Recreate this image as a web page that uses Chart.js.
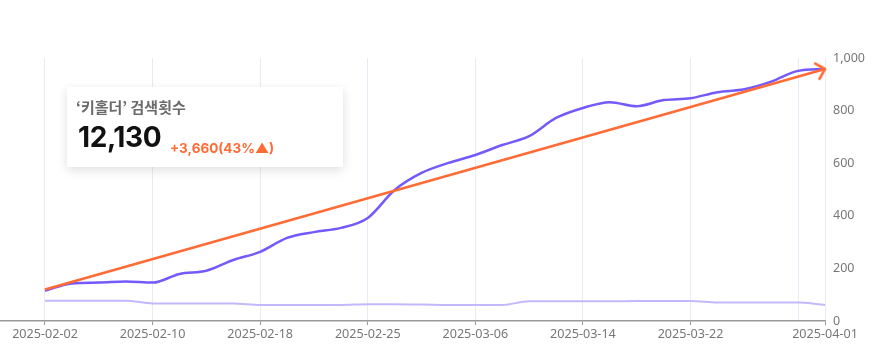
<!DOCTYPE html>
<html><head><meta charset="utf-8">
<script src="https://cdn.jsdelivr.net/npm/chart.js@4/dist/chart.umd.min.js"></script>
<style>
html,body{margin:0;padding:0;background:#fff;}
#wrap{position:relative;width:886px;height:357px;overflow:hidden;}
#c{position:absolute;left:0;top:0;}
.card{position:absolute;left:67px;top:87px;width:276px;height:80px;background:#fff;box-shadow:0 3px 10px rgba(0,0,0,0.13);font-family:Inter,"Noto Sans CJK KR",sans-serif;}
.card .t{position:absolute;left:9px;top:10px;font-size:15px;line-height:20px;font-weight:600;color:#6b6b6b;font-family:"Noto Sans CJK KR",Inter,sans-serif;white-space:nowrap;}
.card .n{position:absolute;left:11px;top:35px;font-size:28px;line-height:30px;font-weight:700;color:#111;white-space:nowrap;letter-spacing:-0.4px;}
.card .d{position:absolute;left:103px;top:52px;font-size:13.5px;line-height:18px;font-weight:700;color:#ff6b35;white-space:nowrap;}
</style></head>
<body>
<div id="wrap">
<canvas id="c" width="886" height="357"></canvas>
<div class="card"><div class="t">‘키홀더’ 검색횟수</div><div class="n">12,130</div><div class="d">+3,660(43%▲)</div></div>
</div>
<script>
const categories = ['2025-02-02','2025-02-04','2025-02-06','2025-02-08','2025-02-10','2025-02-12','2025-02-14','2025-02-16','2025-02-18','2025-02-20','2025-02-22','2025-02-23','2025-02-25','2025-02-27','2025-03-01','2025-03-03','2025-03-06','2025-03-08','2025-03-10','2025-03-12','2025-03-14','2025-03-16','2025-03-18','2025-03-20','2025-03-22','2025-03-24','2025-03-26','2025-03-28','2025-03-30','2025-04-01'];
const searchCounts = [115,143,146,150,146,179,191,232,263,316,338,354,392,498,563,601,631,669,703,772,810,832,817,840,847,870,881,910,951,958];
const baselineCounts = [77,77,77,77,67,67,67,67,61,61,61,61,64,64,63,61,61,61,75,75,75,75,76,76,76,70,70,70,70,61];
const trendValues = [120,958];
const yTickValues = [0,200,400,600,800,1000];
const xGridIndices = [0,4,8,12,16,20,24,28,29];
const xLabelIndices = [0,4,8,12,16,20,24,29];

const purple = '#7459fb', lavender = '#c3b8fb', orange = '#ff6b35';
const X_MIN = -1.673;

// open chevron arrow head used as the point style of the trend line's last point
const arrow = document.createElement('canvas');
arrow.width = 30; arrow.height = 30;
(function(){
  const g = arrow.getContext('2d');
  g.strokeStyle = orange; g.lineWidth = 2.5; g.lineCap = 'round'; g.lineJoin = 'round';
  g.beginPath(); g.moveTo(7,7); g.lineTo(15,15); g.lineTo(7,23); g.stroke();
})();

const lastIdx = categories.length - 1;
const trendData = [{x:0, y:trendValues[0]}, {x:lastIdx, y:trendValues[1]}];
const isGrid = v => xGridIndices.includes(v);

new Chart(document.getElementById('c'), {
  type: 'line',
  data: {
    datasets: [
      {
        data: trendData,
        borderColor: orange, borderWidth: 2.5, tension: 0, clip: false,
        pointRadius: ctx => ctx.dataIndex === 1 ? 10 : 0,
        pointStyle: ctx => ctx.dataIndex === 1 ? arrow : 'circle',
        pointRotation: ctx => {
          const ch = ctx.chart, xs = ch.scales.x, ys = ch.scales.y;
          if (!xs || !ys) return -16;
          const dx = xs.getPixelForValue(lastIdx) - xs.getPixelForValue(0);
          const dy = ys.getPixelForValue(trendValues[1]) - ys.getPixelForValue(trendValues[0]);
          return Math.atan2(dy, dx) * 180 / Math.PI;
        }
      },
      {
        data: searchCounts.map((v,i)=>({x:i, y:v})),
        borderColor: purple, borderWidth: 2.5, pointRadius: 0, cubicInterpolationMode: 'monotone'
      },
      {
        data: baselineCounts.map((v,i)=>({x:i, y:v})),
        borderColor: lavender, borderWidth: 2, pointRadius: 0, cubicInterpolationMode: 'monotone'
      }
    ]
  },
  options: {
    responsive: false, animation: false, devicePixelRatio: 1,
    layout: { autoPadding: false, padding: { top: 58, left: 0, right: 0, bottom: 0 } },
    plugins: { legend: { display: false }, tooltip: { enabled: false } },
    scales: {
      x: {
        type: 'linear', min: X_MIN, max: lastIdx,
        afterBuildTicks: s => { s.ticks = [{value: X_MIN}].concat(xGridIndices.map(v => ({value: v}))); },
        afterFit: s => { s.height = 36; s.paddingLeft = 0; s.paddingRight = 0; },
        ticks: {
          autoSkip: false, maxRotation: 0, padding: 2, color: '#777',
          font: { family: '"Noto Sans", sans-serif', size: 12.6 },
          callback: v => xLabelIndices.includes(v) ? categories[v] : ''
        },
        grid: {
          color: ctx => (ctx.tick && isGrid(ctx.tick.value)) ? '#e8ebf4' : 'rgba(0,0,0,0)',
          lineWidth: 1, tickLength: 4,
          tickColor: ctx => (ctx.tick && xLabelIndices.includes(ctx.tick.value)) ? '#999' : 'rgba(0,0,0,0)'
        },
        border: { display: true, color: '#999', width: 1.5 }
      },
      y: {
        position: 'right', min: 0, max: 1000,
        afterBuildTicks: s => { s.ticks = yTickValues.map(v => ({value: v})); },
        afterFit: s => { s.width = 61; s.paddingTop = 0; s.paddingBottom = 0; },
        ticks: {
          padding: 8, color: '#777',
          font: { family: '"Noto Sans", sans-serif', size: 12.5 },
          callback: v => v.toLocaleString('en-US')
        },
        grid: { display: false, drawTicks: false, tickLength: 0 },
        border: { display: false }
      }
    }
  }
});
</script>
</body></html>
